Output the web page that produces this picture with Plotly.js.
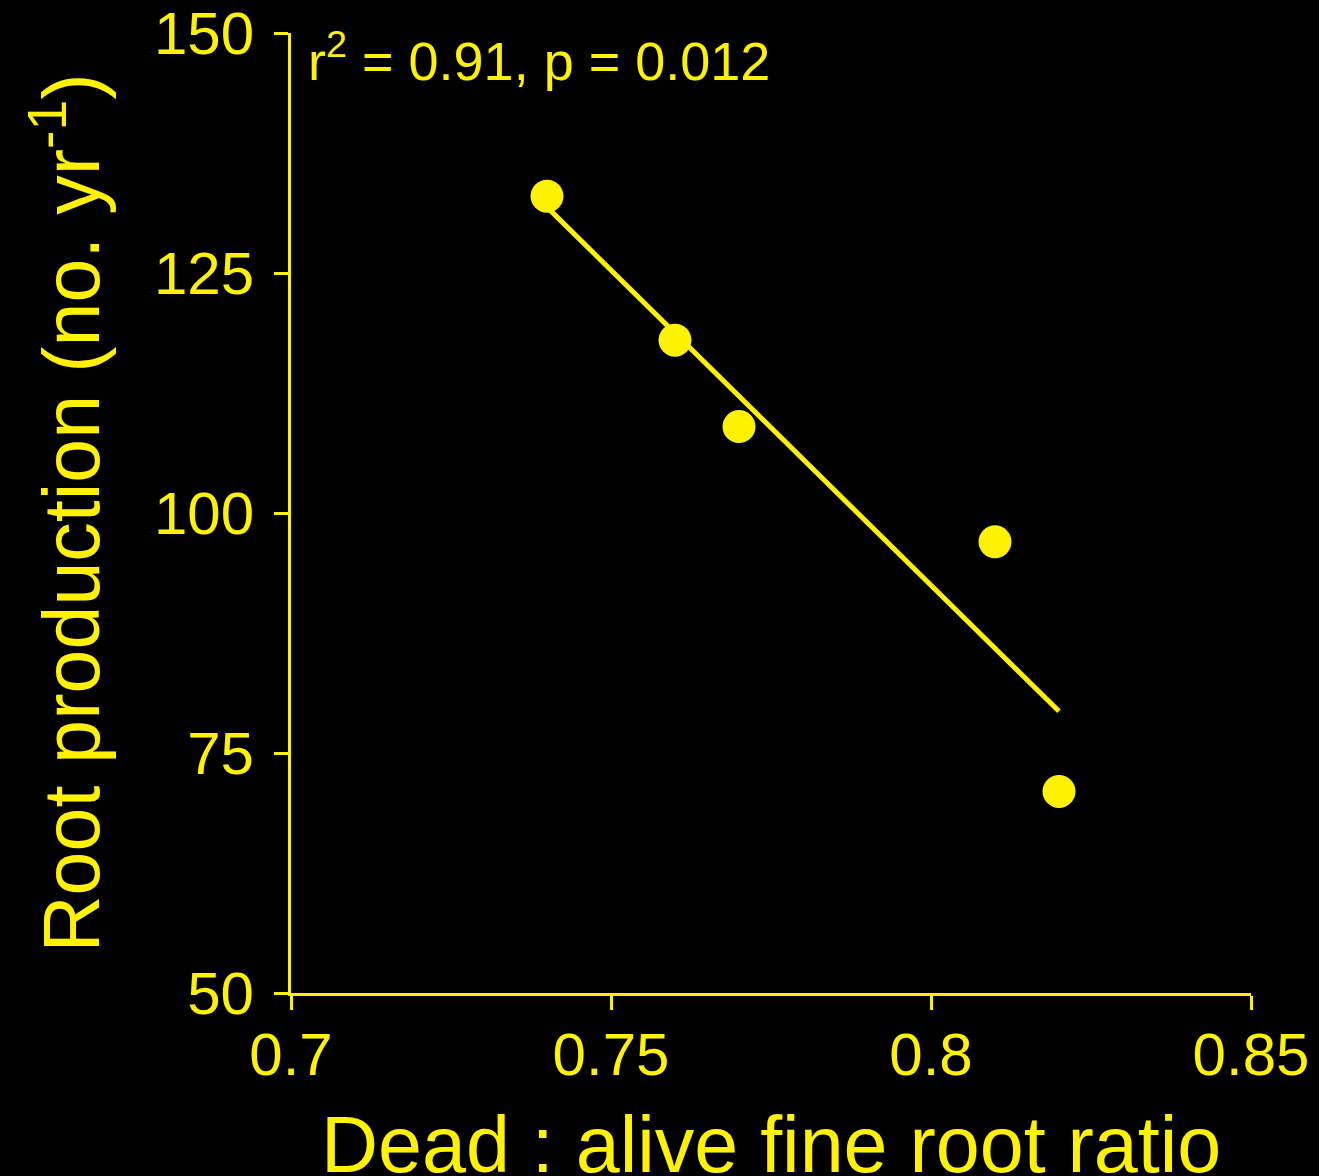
<!DOCTYPE html>
<html>
<head>
<meta charset="utf-8">
<script src="https://cdn.plot.ly/plotly-3.0.1.min.js"></script>
<style>
  html, body { margin: 0; padding: 0; background: #000; }
  #chart { width: 1319px; height: 1176px; }
</style>
</head>
<body>
<div id="chart"></div>
<script>
// Dead : alive fine root ratio vs. root production
const ratio = [0.74, 0.76, 0.77, 0.81, 0.82];
const production = [133, 118, 109, 97, 71];

const xTicks = [0.7, 0.75, 0.8, 0.85];
const xTickText = ['0.7', '0.75', '0.8', '0.85'];
const yTicks = [50, 75, 100, 125, 150];

const xTitle = 'Dead : alive fine root ratio';
const yTitle = 'Root production (no. yr<sup>-1</sup>)';
const statsText = 'r<sup>2</sup> = 0.91, p = 0.012';

// least-squares fit through the observations
function linearFit(xs, ys) {
  const n = xs.length;
  const mx = xs.reduce((a, b) => a + b, 0) / n;
  const my = ys.reduce((a, b) => a + b, 0) / n;
  let sxy = 0, sxx = 0;
  for (let i = 0; i < n; i++) {
    sxy += (xs[i] - mx) * (ys[i] - my);
    sxx += (xs[i] - mx) * (xs[i] - mx);
  }
  const slope = sxy / sxx;
  return { slope, intercept: my - slope * mx };
}

const fit = linearFit(ratio, production);
const fitX = [Math.min(...ratio), Math.max(...ratio)];
const fitY = fitX.map(x => fit.intercept + fit.slope * x);

const yellow = '#fff200';
const font = 'Liberation Sans, Arial, sans-serif';

const traces = [
  {
    x: fitX, y: fitY, type: 'scatter', mode: 'lines',
    line: { color: yellow, width: 5 },
    hoverinfo: 'skip'
  },
  {
    x: ratio, y: production, type: 'scatter', mode: 'markers',
    marker: { color: yellow, size: 33, line: { width: 0 } }
  }
];

const layout = {
  width: 1319, height: 1176,
  paper_bgcolor: '#000', plot_bgcolor: '#000',
  showlegend: false,
  margin: { l: 291, r: 68, t: 33, b: 183 },
  font: { family: font, color: yellow },
  xaxis: {
    range: [0.7, 0.85], tickvals: xTicks, ticktext: xTickText,
    showgrid: false, zeroline: false,
    showline: true, linecolor: yellow, linewidth: 3,
    ticks: 'outside', ticklen: 14, tickwidth: 3, tickcolor: yellow,
    tickfont: { size: 60, color: yellow, family: font },
    ticklabelstandoff: -7,
    automargin: false
  },
  yaxis: {
    range: [50, 150], tickvals: yTicks,
    showgrid: false, zeroline: false,
    showline: true, linecolor: yellow, linewidth: 3,
    ticks: 'outside', ticklen: 14, tickwidth: 3, tickcolor: yellow,
    tickfont: { size: 60, color: yellow, family: font },
    ticklabelstandoff: 8,
    title: { text: yTitle, font: { size: 79, color: yellow, family: font }, standoff: 29 },
    automargin: false
  },
  annotations: [
    {
      // x-axis title, set just above the bottom edge
      xref: 'paper', yref: 'paper', x: 0.5, y: -0.206,
      xanchor: 'center', yanchor: 'bottom',
      text: xTitle, showarrow: false,
      font: { size: 79, color: yellow, family: font }
    },
    {
      xref: 'paper', yref: 'paper', x: 0.016, y: 1.012,
      xanchor: 'left', yanchor: 'top',
      text: statsText, showarrow: false,
      font: { size: 54, color: yellow, family: font }
    }
  ]
};

Plotly.newPlot('chart', traces, layout, { displayModeBar: false, staticPlot: true });
</script>
</body>
</html>
